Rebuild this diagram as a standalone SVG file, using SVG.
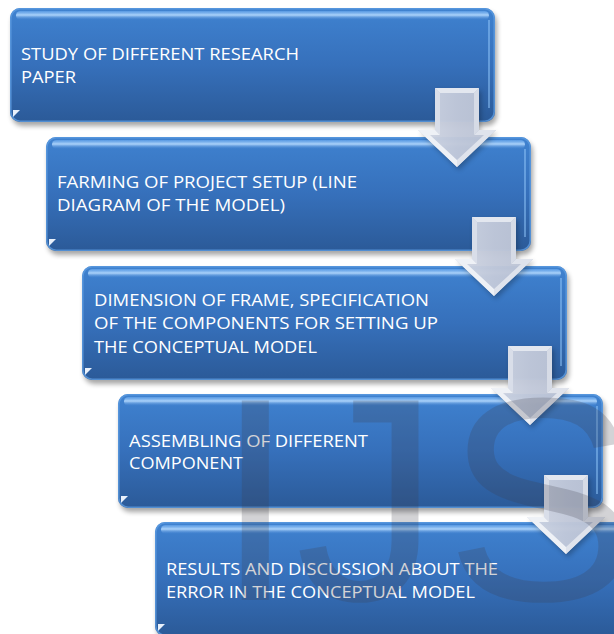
<svg xmlns="http://www.w3.org/2000/svg" width="614" height="634" viewBox="0 0 614 634">
<defs>
  <linearGradient id="boxFill" x1="0" y1="0" x2="0" y2="1">
    <stop offset="0" stop-color="#3f82d0"/>
    <stop offset="0.5" stop-color="#3670bb"/>
    <stop offset="1" stop-color="#2b5a98"/>
  </linearGradient>
  <linearGradient id="gloss" x1="0" y1="0" x2="0" y2="1">
    <stop offset="0" stop-color="#6aaaf0" stop-opacity="0.6"/>
    <stop offset="0.45" stop-color="#b8dcff" stop-opacity="0.9"/>
    <stop offset="1" stop-color="#4a8ad8" stop-opacity="0"/>
  </linearGradient>
  <linearGradient id="arrowFill" x1="0" y1="0" x2="1" y2="0">
    <stop offset="0" stop-color="#d3d9e6"/>
    <stop offset="0.5" stop-color="#c4cbdc"/>
    <stop offset="1" stop-color="#bcc4d6"/>
  </linearGradient>
  <filter id="shadow" x="-5%" y="-10%" width="110%" height="130%">
    <feGaussianBlur stdDeviation="2.5"/>
  </filter>
  <g id="boxShape">
    <rect x="2" y="4" width="485" height="114" rx="10" fill="#000" opacity="0.35" filter="url(#shadow)"/>
    <rect x="0" y="0" width="485" height="114" rx="10" fill="url(#boxFill)"/>
    <rect x="0.8" y="0.8" width="483.4" height="112.4" rx="9.5" fill="none" stroke="#5d9be0" stroke-width="1.6" opacity="0.8"/>
    <rect x="6" y="3" width="473" height="9" rx="4.5" fill="url(#gloss)"/>
    <path d="M479 12 L479 100" stroke="#8ec3f7" stroke-width="1.5" opacity="0.7"/>
    <polygon points="3,102 10,102 3,109" fill="#e8f0fb"/>
  </g>
  <g id="arrowShape">
    <polygon points="-20,3 24,3 24,45 41,45 2,82 -37,45 -20,45" fill="#000" opacity="0.25" filter="url(#shadow)"/>
    <polygon points="-22,0 22,0 22,42 39,42 0,79 -39,42 -22,42" fill="url(#arrowFill)" opacity="0.95"/>
    <polygon points="-22,0 22,0 17,5 -17,5" fill="#e3e7ef"/>
    <polygon points="-22,0 -17,5 -17,47 -22,42" fill="#d9dee9"/>
    <polygon points="-39,42 -22,42 -17,47 -27,47 0,72 0,79" fill="#eef1f6"/>
    <polygon points="39,42 22,42 17,47 27,47 0,72 0,79" fill="#dfe3ec"/>
    <polygon points="22,0 22,42 17,47 17,5" fill="#d6dbe6"/>
  </g>
</defs>
<style>
  .lbl { font-family: "Open Sans", "Liberation Sans", sans-serif; font-size: 16.5px; fill: #ffffff; }
  .wm { font-family: "Liberation Sans", Arial, sans-serif; font-size: 290px; fill: #3c3c48; opacity: 0.22; }
</style>

<g id="node1">
  <use href="#boxShape" x="10" y="8"/>
  <text class="lbl" x="21" y="60" textLength="278" lengthAdjust="spacingAndGlyphs">STUDY OF DIFFERENT RESEARCH</text>
  <text class="lbl" x="21" y="83" textLength="55" lengthAdjust="spacingAndGlyphs">PAPER</text>
</g>
<g id="node2">
  <use href="#boxShape" x="46" y="137"/>
  <text class="lbl" x="57" y="188" textLength="300" lengthAdjust="spacingAndGlyphs">FARMING OF PROJECT SETUP (LINE</text>
  <text class="lbl" x="57" y="211" textLength="228" lengthAdjust="spacingAndGlyphs">DIAGRAM OF THE MODEL)</text>
</g>
<g id="node3">
  <use href="#boxShape" x="82" y="266"/>
  <text class="lbl" x="94" y="306" textLength="335" lengthAdjust="spacingAndGlyphs">DIMENSION OF FRAME, SPECIFICATION</text>
  <text class="lbl" x="94" y="329" textLength="344" lengthAdjust="spacingAndGlyphs">OF THE COMPONENTS FOR SETTING UP</text>
  <text class="lbl" x="94" y="353" textLength="223" lengthAdjust="spacingAndGlyphs">THE CONCEPTUAL MODEL</text>
</g>
<g id="node4">
  <use href="#boxShape" x="118" y="394"/>
  <text class="lbl" x="129" y="447" textLength="239" lengthAdjust="spacingAndGlyphs">ASSEMBLING OF DIFFERENT</text>
  <text class="lbl" x="129" y="469" textLength="114" lengthAdjust="spacingAndGlyphs">COMPONENT</text>
</g>
<g id="node5">
  <use href="#boxShape" x="155" y="522"/>
  <text class="lbl" x="166" y="575" textLength="332" lengthAdjust="spacingAndGlyphs">RESULTS AND DISCUSSION ABOUT THE</text>
  <text class="lbl" x="166" y="598" textLength="309" lengthAdjust="spacingAndGlyphs">ERROR IN THE CONCEPTUAL MODEL</text>
</g>

<g id="connectors">
  <use href="#arrowShape" x="457" y="88"/>
  <use href="#arrowShape" x="494" y="217"/>
  <use href="#arrowShape" x="530" y="346"/>
  <use href="#arrowShape" x="566" y="475"/>
</g>

<g id="watermark">
  <text class="wm" x="215" y="600">I</text>
  <text class="wm" x="295" y="600">J</text>
  <text class="wm" x="445" y="600">S</text>
</g>
</svg>
